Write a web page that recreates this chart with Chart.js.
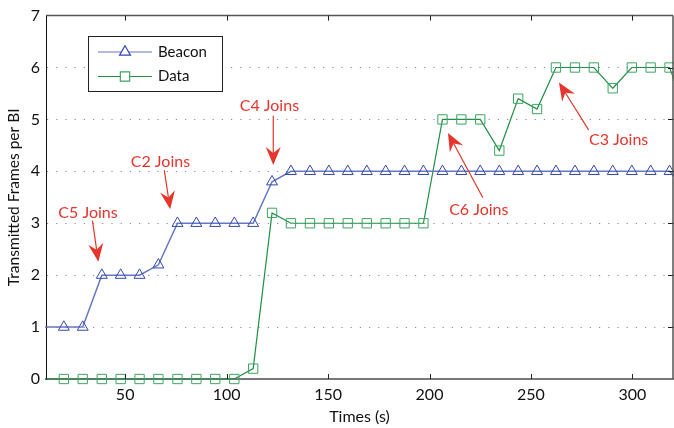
<!DOCTYPE html>
<html lang="en">
<head>
  <meta charset="UTF-8">
  <title>Transmitted Frames per BI</title>
  <script src="https://cdn.jsdelivr.net/npm/chart.js@4.4.1/dist/chart.umd.min.js"></script>
  <style>
    html, body { margin: 0; padding: 0; background: #fff; }
    #frames-chart { display: block; }
  </style>
</head>
<body>
  <canvas id="frames-chart" width="674" height="428"></canvas>

  <script>
    // values (first and last samples sit outside the visible axis range)
    const times = [10.5, 19.8, 29.1, 38.5, 47.8, 57.1, 66.4, 75.8, 85.1, 94.4, 103.8,
      113.1, 122.4, 131.7, 141.1, 150.4, 159.7, 169.1, 178.4, 187.7, 197.0,
      206.4, 215.7, 225.0, 234.4, 243.7, 253.0, 262.3, 271.7, 281.0, 290.3,
      299.7, 309.0, 318.3, 327.7];
    const beacon = [1, 1, 1, 2, 2, 2, 2.2, 3, 3, 3, 3,
      3, 3.8, 4, 4, 4, 4, 4, 4, 4, 4,
      4, 4, 4, 4, 4, 4, 4, 4, 4, 4,
      4, 4, 4, 3.6];
    const dataFrames = [0, 0, 0, 0, 0, 0, 0, 0, 0, 0, 0,
      0.2, 3.2, 3, 3, 3, 3, 3, 3, 3, 3,
      5, 5, 5, 4.4, 5.4, 5.2, 6, 6, 6, 5.6,
      6, 6, 6, 5];
    const seriesNames = ['Beacon', 'Data'];
    const xTicks = [50, 100, 150, 200, 250, 300];
    const yTicks = [0, 1, 2, 3, 4, 5, 6, 7];

    // "joins" callouts in data units: label position, arrow tail, arrow tip
    const joinNotes = [
      { label: 'C5 Joins', at: [31.7, 3.21], from: [33.9, 3.05], to: [36.8, 2.26] },
      { label: 'C2 Joins', at: [67.4, 4.19], from: [69.3, 4.02], to: [72.2, 3.27] },
      { label: 'C4 Joins', at: [121.1, 5.26], from: [123.0, 5.07], to: [123.0, 4.12] },
      { label: 'C6 Joins', at: [224.3, 3.26], from: [226.3, 3.49], to: [209.1, 4.74] },
      { label: 'C3 Joins', at: [293.2, 4.60], from: [278.4, 4.80], to: [263.8, 5.71] }
    ];

    const X_MIN = 11, X_MAX = 320;
    const FONT = 'Lato, "Open Sans", sans-serif';
    const BLUE_LINE = '#6677c4', BLUE_MARK = '#3546b0';
    const GREEN_LINE = '#1e8f45', GREEN_MARK = '#3da465';
    const RED = '#e5352c';

    const pts = vals => vals.map((v, i) => ({ x: times[i], y: v }));
    // hide markers of samples that fall outside the axis
    const inRange = ctx => {
      const p = ctx.raw;
      return p && p.x >= X_MIN && p.x <= X_MAX;
    };

    const framePlugin = {
      id: 'frame',
      afterDraw(chart) {
        const { ctx, chartArea: a, scales: { x, y } } = chart;
        ctx.save();
        // top and right border
        ctx.strokeStyle = '#555';
        ctx.lineWidth = 1.5;
        ctx.beginPath();
        ctx.moveTo(a.left, a.top); ctx.lineTo(a.right, a.top);
        ctx.moveTo(a.right, a.top); ctx.lineTo(a.right, a.bottom);
        ctx.stroke();
        // inward ticks
        ctx.strokeStyle = '#222';
        ctx.lineWidth = 1;
        ctx.beginPath();
        xTicks.forEach(v => {
          const px = Math.round(x.getPixelForValue(v)) + 0.5;
          ctx.moveTo(px, a.bottom); ctx.lineTo(px, a.bottom - 5);
          ctx.moveTo(px, a.top); ctx.lineTo(px, a.top + 5);
        });
        yTicks.slice(1, -1).forEach(v => {
          const py = Math.round(y.getPixelForValue(v)) + 0.5;
          ctx.moveTo(a.right, py); ctx.lineTo(a.right - 5, py);
        });
        ctx.stroke();

        // legend
        const lx = 88.5, ly = 36.5, lw = 134, lh = 55;
        ctx.fillStyle = '#fff';
        ctx.fillRect(lx, ly, lw, lh);
        ctx.strokeStyle = '#222';
        ctx.lineWidth = 1;
        ctx.strokeRect(lx, ly, lw, lh);
        const rows = [
          { name: seriesNames[0], line: BLUE_LINE, mark: BLUE_MARK, style: 'triangle', yy: 52 },
          { name: seriesNames[1], line: GREEN_LINE, mark: GREEN_MARK, style: 'rect', yy: 76.5 }
        ];
        rows.forEach(r => {
          ctx.strokeStyle = r.line;
          ctx.lineWidth = 1.2;
          ctx.beginPath();
          ctx.moveTo(98, r.yy); ctx.lineTo(152, r.yy);
          ctx.stroke();
          ctx.fillStyle = '#fff';
          ctx.strokeStyle = r.mark;
          Chart.helpers.drawPoint(ctx, { pointStyle: r.style, radius: r.style === 'rect' ? 6.6 : 6.3, borderWidth: 1 }, 125, r.yy);
          ctx.fillStyle = '#111';
          ctx.font = '15px ' + FONT;
          ctx.textAlign = 'left';
          ctx.textBaseline = 'middle';
          ctx.fillText(r.name, 158, r.yy);
        });

        // callouts
        joinNotes.forEach(n => {
          const tx = x.getPixelForValue(n.at[0]), ty = y.getPixelForValue(n.at[1]);
          const x0 = x.getPixelForValue(n.from[0]), y0 = y.getPixelForValue(n.from[1]);
          const x1 = x.getPixelForValue(n.to[0]), y1 = y.getPixelForValue(n.to[1]);
          ctx.fillStyle = RED;
          ctx.font = '16px ' + FONT;
          ctx.textAlign = 'center';
          ctx.textBaseline = 'middle';
          ctx.fillText(n.label, tx, ty);
          const len = Math.hypot(x1 - x0, y1 - y0);
          const ux = (x1 - x0) / len, uy = (y1 - y0) / len;
          const nx = -uy, ny = ux;
          const L = 18, W = 7.5, notch = 6;
          ctx.strokeStyle = RED;
          ctx.lineWidth = 1.2;
          ctx.beginPath();
          ctx.moveTo(x0, y0);
          ctx.lineTo(x1 - ux * (L - notch), y1 - uy * (L - notch));
          ctx.stroke();
          ctx.beginPath();
          ctx.moveTo(x1, y1);
          ctx.lineTo(x1 - ux * L + nx * W, y1 - uy * L + ny * W);
          ctx.lineTo(x1 - ux * (L - notch), y1 - uy * (L - notch));
          ctx.lineTo(x1 - ux * L - nx * W, y1 - uy * L - ny * W);
          ctx.closePath();
          ctx.fill();
        });
        ctx.restore();
      }
    };

    const ctx = document.getElementById('frames-chart').getContext('2d');
    new Chart(ctx, {
      type: 'line',
      data: {
        datasets: [
          {
            label: seriesNames[0],
            data: pts(beacon),
            borderColor: BLUE_LINE,
            borderWidth: 1.5,
            pointStyle: 'triangle',
            pointRadius: c => inRange(c) ? 6.3 : 0,
            pointBorderColor: BLUE_MARK,
            pointBackgroundColor: 'rgba(0,0,0,0)',
            pointBorderWidth: 1,
            tension: 0,
            clip: false
          },
          {
            label: seriesNames[1],
            data: pts(dataFrames),
            borderColor: GREEN_LINE,
            borderWidth: 1.2,
            pointStyle: 'rect',
            pointRadius: c => inRange(c) ? 6.6 : 0,
            pointBorderColor: GREEN_MARK,
            pointBackgroundColor: 'rgba(0,0,0,0)',
            pointBorderWidth: 1,
            tension: 0,
            clip: false
          }
        ]
      },
      options: {
        responsive: false,
        animation: false,
        devicePixelRatio: 1,
        layout: { padding: { top: 10, right: 1, left: 0, bottom: 0 } },
        plugins: {
          legend: { display: false },
          tooltip: { enabled: false }
        },
        scales: {
          x: {
            type: 'linear',
            min: X_MIN,
            max: X_MAX,
            afterBuildTicks: s => { s.ticks = xTicks.map(v => ({ value: v })); },
            afterFit: s => { s.height = 49; },
            grid: { display: false, drawTicks: false },
            border: { display: true, color: '#777', width: 2 },
            ticks: { color: '#111', font: { family: FONT, size: 16 }, padding: 6, maxRotation: 0 },
            title: {
              display: true,
              text: 'Times (s)',
              color: '#111',
              font: { family: FONT, size: 16 },
              padding: { top: 0, bottom: 2 }
            }
          },
          y: {
            min: 0,
            max: 7,
            afterBuildTicks: s => { s.ticks = yTicks.map(v => ({ value: v })); },
            afterFit: s => { s.width = 46; },
            grid: {
              color: c => (c.tick && c.tick.value > 0 && c.tick.value < 7) ? '#8a8a8a' : 'rgba(0,0,0,0)',
              lineWidth: 1,
              drawTicks: false
            },
            border: { display: true, color: '#111', width: 1, dash: [1.2, 8] },
            ticks: { color: '#111', font: { family: FONT, size: 16 }, padding: 6 },
            title: {
              display: true,
              text: 'Transmitted Frames per BI',
              color: '#111',
              font: { family: FONT, size: 15.5 },
              padding: { top: 5, bottom: 0 }
            }
          }
        }
      },
      plugins: [framePlugin]
    });
  </script>
</body>
</html>
